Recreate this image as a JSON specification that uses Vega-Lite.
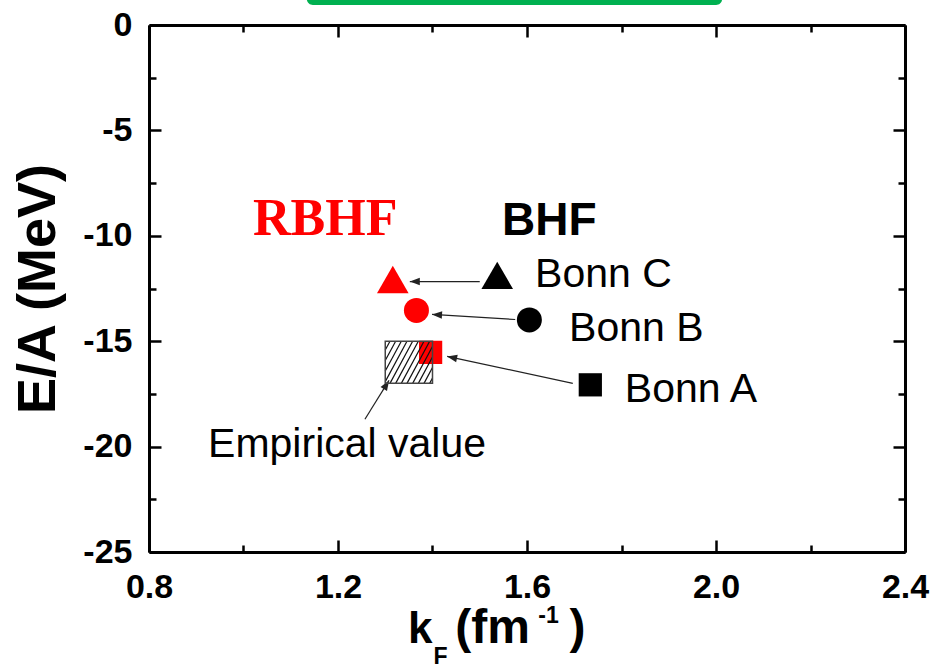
{
  "$schema": "https://vega.github.io/schema/vega-lite/v6.json",
  "width": 756,
  "height": 527,
  "autosize": {"type": "none"},
  "padding": {"left": 149, "top": 25, "right": 26, "bottom": 116},
  "background": "#ffffff",
  "config": {
    "view": {"stroke": null},
    "axis": {
      "grid": false,
      "domainColor": "#000000",
      "domainWidth": 3,
      "tickColor": "#000000",
      "tickWidth": 2.5,
      "labelFont": "Liberation Sans",
      "labelFontSize": 34,
      "labelFontWeight": "bold",
      "labelColor": "#000000",
      "labelFlush": false,
      "labelOverlap": false
    }
  },
  "datasets": {
    "points": [
      {"kF": 1.316, "EA": -12.07, "model": "Bonn C", "method": "RBHF"},
      {"kF": 1.366, "EA": -13.54, "model": "Bonn B", "method": "RBHF"},
      {"kF": 1.396, "EA": -15.53, "model": "Bonn A", "method": "RBHF"},
      {"kF": 1.537, "EA": -11.88, "model": "Bonn C", "method": "BHF"},
      {"kF": 1.605, "EA": -13.99, "model": "Bonn B", "method": "BHF"},
      {"kF": 1.734, "EA": -17.07, "model": "Bonn A", "method": "BHF"}
    ],
    "arrows": [
      {"xs": 1.500, "ys": -12.17, "xe": 1.352, "ye": -12.17, "ang": 270},
      {"xs": 1.575, "ys": -13.97, "xe": 1.399, "ye": -13.73, "ang": 273.4},
      {"xs": 1.697, "ys": -17.00, "xe": 1.431, "ye": -15.72, "ang": 282.1},
      {"xs": 1.257, "ys": -18.70, "xe": 1.308, "ye": -16.86, "ang": 31.6}
    ],
    "hatch": [
      {"a": 1.3940, "b": -17, "c": 1.40, "d": -16.75},
      {"a": 1.3820, "b": -17, "c": 1.40, "d": -16.25},
      {"a": 1.3700, "b": -17, "c": 1.40, "d": -15.75},
      {"a": 1.3580, "b": -17, "c": 1.40, "d": -15.25},
      {"a": 1.3460, "b": -17, "c": 1.394, "d": -15},
      {"a": 1.3340, "b": -17, "c": 1.382, "d": -15},
      {"a": 1.3220, "b": -17, "c": 1.370, "d": -15},
      {"a": 1.3100, "b": -17, "c": 1.358, "d": -15},
      {"a": 1.30, "b": -16.917, "c": 1.346, "d": -15},
      {"a": 1.30, "b": -16.417, "c": 1.334, "d": -15},
      {"a": 1.30, "b": -15.917, "c": 1.322, "d": -15},
      {"a": 1.30, "b": -15.417, "c": 1.310, "d": -15}
    ]
  },
  "resolve": {"axis": {"x": "independent", "y": "independent"}},
  "layer": [
    {
      "data": {"values": [{"x1": 1.134, "x2": 2.013, "y1": 0.95, "y2": 3}]},
      "mark": {"type": "rect", "color": "#00b050", "cornerRadius": 6, "clip": false},
      "encoding": {
        "x": {"field": "x1", "type": "quantitative", "scale": {"domain": [0.8, 2.4]}, "axis": null},
        "x2": {"field": "x2"},
        "y": {"field": "y1", "type": "quantitative", "scale": {"domain": [-25, 0]}, "axis": null},
        "y2": {"field": "y2"}
      }
    },
    {
      "data": {"name": "points"},
      "transform": [{"filter": "datum.method === 'RBHF'"}],
      "mark": {"type": "point", "filled": true, "opacity": 1, "color": "#ff0000", "strokeWidth": 0},
      "encoding": {
        "x": {"field": "kF", "type": "quantitative", "scale": {"domain": [0.8, 2.4]},
          "axis": {"orient": "bottom", "values": [0.8, 1.2, 1.6, 2.0, 2.4], "format": ".1f", "title": null, "tickSize": -12, "labelPadding": 30}},
        "y": {"field": "EA", "type": "quantitative", "scale": {"domain": [-25, 0]},
          "axis": {"orient": "left", "values": [0, -5, -10, -15, -20, -25], "labelExpr": "datum.value === 0 ? '0' : '-' + abs(datum.value)", "title": "E/A (MeV)", "titleFont": "Liberation Sans", "titleFontSize": 54, "titleFontWeight": "bold", "titleColor": "#000000", "titlePadding": 17, "tickSize": -12, "labelPadding": 29}},
        "shape": {"field": "model", "type": "nominal", "scale": {"domain": ["Bonn A", "Bonn B", "Bonn C"], "range": ["square", "circle", "triangle-up"]}, "legend": null},
        "size": {"field": "model", "type": "nominal", "scale": {"type": "ordinal", "domain": ["Bonn A", "Bonn B", "Bonn C"], "range": [540, 625, 1000]}, "legend": null}
      }
    },
    {
      "data": {"name": "points"},
      "transform": [{"filter": "datum.method === 'BHF'"}],
      "mark": {"type": "point", "filled": true, "opacity": 1, "color": "#000000", "strokeWidth": 0},
      "encoding": {
        "x": {"field": "kF", "type": "quantitative", "scale": {"domain": [0.8, 2.4]},
          "axis": {"orient": "top", "values": [0.8, 1.2, 1.6, 2.0, 2.4], "labels": false, "title": null, "tickSize": -12}},
        "y": {"field": "EA", "type": "quantitative", "scale": {"domain": [-25, 0]},
          "axis": {"orient": "right", "values": [0, -5, -10, -15, -20, -25], "labels": false, "title": null, "tickSize": -12}},
        "shape": {"field": "model", "type": "nominal", "scale": {"domain": ["Bonn A", "Bonn B", "Bonn C"], "range": ["square", "circle", "triangle-up"]}, "legend": null},
        "size": {"field": "model", "type": "nominal", "scale": {"type": "ordinal", "domain": ["Bonn A", "Bonn B", "Bonn C"], "range": [540, 625, 1000]}, "legend": null}
      }
    },
    {
      "data": {"name": "arrows"},
      "mark": {"type": "rule", "color": "#222222", "strokeWidth": 1.2},
      "encoding": {
        "x": {"field": "xs", "type": "quantitative", "scale": {"domain": [0.8, 2.4]},
          "axis": {"orient": "bottom", "values": [1.0, 1.4, 1.8, 2.2], "labels": false, "domain": false, "title": null, "tickSize": -7}},
        "y": {"field": "ys", "type": "quantitative", "scale": {"domain": [-25, 0]},
          "axis": {"orient": "left", "values": [-2.5, -7.5, -12.5, -17.5, -22.5], "labels": false, "domain": false, "title": null, "tickSize": -7}},
        "x2": {"field": "xe"},
        "y2": {"field": "ye"}
      }
    },
    {
      "data": {"name": "arrows"},
      "mark": {"type": "point", "filled": true, "opacity": 1, "color": "#222222", "strokeWidth": 0, "shape": "M0,0L-0.38,1L0.38,1Z", "size": 400},
      "encoding": {
        "x": {"field": "xe", "type": "quantitative", "scale": {"domain": [0.8, 2.4]},
          "axis": {"orient": "top", "values": [1.0, 1.4, 1.8, 2.2], "labels": false, "domain": false, "title": null, "tickSize": -7}},
        "y": {"field": "ye", "type": "quantitative", "scale": {"domain": [-25, 0]},
          "axis": {"orient": "right", "values": [-2.5, -7.5, -12.5, -17.5, -22.5], "labels": false, "domain": false, "title": null, "tickSize": -7}},
        "angle": {"field": "ang", "type": "quantitative", "scale": null}
      }
    },
    {
      "data": {"name": "hatch"},
      "mark": {"type": "rule", "color": "#111111", "strokeWidth": 1.2},
      "encoding": {
        "x": {"field": "a", "type": "quantitative", "scale": {"domain": [0.8, 2.4]}, "axis": null},
        "y": {"field": "b", "type": "quantitative", "scale": {"domain": [-25, 0]}, "axis": null},
        "x2": {"field": "c"},
        "y2": {"field": "d"}
      }
    },
    {
      "data": {"values": [{"x1": 1.30, "x2": 1.40, "y1": -17, "y2": -15}]},
      "mark": {"type": "rect", "fill": null, "fillOpacity": 0, "stroke": "#444444", "strokeWidth": 1.5},
      "encoding": {
        "x": {"field": "x1", "type": "quantitative", "scale": {"domain": [0.8, 2.4]}, "axis": null},
        "x2": {"field": "x2"},
        "y": {"field": "y1", "type": "quantitative", "scale": {"domain": [-25, 0]}, "axis": null},
        "y2": {"field": "y2"}
      }
    },
    {
      "data": {"values": [
        {"x": 1.617, "y": -12.41, "t": "Bonn C"},
        {"x": 1.689, "y": -15.01, "t": "Bonn B"},
        {"x": 1.807, "y": -17.90, "t": "Bonn A"},
        {"x": 0.925, "y": -20.50, "t": "Empirical value"}
      ]},
      "mark": {"type": "text", "align": "left", "baseline": "alphabetic", "font": "Liberation Sans", "fontSize": 41, "color": "#000000"},
      "encoding": {
        "x": {"field": "x", "type": "quantitative", "scale": {"domain": [0.8, 2.4]}, "axis": null},
        "y": {"field": "y", "type": "quantitative", "scale": {"domain": [-25, 0]}, "axis": null},
        "text": {"field": "t"}
      }
    },
    {
      "data": {"values": [{"x": 1.547, "y": -9.94, "t": "BHF"}]},
      "mark": {"type": "text", "align": "left", "baseline": "alphabetic", "font": "Liberation Sans", "fontSize": 46, "fontWeight": "bold", "color": "#000000"},
      "encoding": {
        "x": {"field": "x", "type": "quantitative", "scale": {"domain": [0.8, 2.4]}, "axis": null},
        "y": {"field": "y", "type": "quantitative", "scale": {"domain": [-25, 0]}, "axis": null},
        "text": {"field": "t"}
      }
    },
    {
      "data": {"values": [{"x": 1.020, "y": -9.94, "t": "RBHF"}]},
      "mark": {"type": "text", "align": "left", "baseline": "alphabetic", "font": "Liberation Serif", "fontSize": 52, "fontWeight": "bold", "color": "#ff0000"},
      "encoding": {
        "x": {"field": "x", "type": "quantitative", "scale": {"domain": [0.8, 2.4]}, "axis": null},
        "y": {"field": "y", "type": "quantitative", "scale": {"domain": [-25, 0]}, "axis": null},
        "text": {"field": "t"}
      }
    },
    {
      "data": {"values": [
        {"x": 1.348, "y": -29.32, "t": "k"}
      ]},
      "mark": {"type": "text", "align": "left", "baseline": "alphabetic", "font": "Liberation Sans", "fontSize": 44, "fontWeight": "bold", "color": "#000000", "clip": false},
      "encoding": {
        "x": {"field": "x", "type": "quantitative", "scale": {"domain": [0.8, 2.4]}, "axis": null},
        "y": {"field": "y", "type": "quantitative", "scale": {"domain": [-25, 0]}, "axis": null},
        "text": {"field": "t"}
      }
    },
    {
      "data": {"values": [
        {"x": 1.448, "y": -29.32, "t": "(fm"},
        {"x": 1.690, "y": -29.32, "t": ")"}
      ]},
      "mark": {"type": "text", "align": "left", "baseline": "alphabetic", "font": "Liberation Sans", "fontSize": 48, "fontWeight": "bold", "color": "#000000", "clip": false},
      "encoding": {
        "x": {"field": "x", "type": "quantitative", "scale": {"domain": [0.8, 2.4]}, "axis": null},
        "y": {"field": "y", "type": "quantitative", "scale": {"domain": [-25, 0]}, "axis": null},
        "text": {"field": "t"}
      }
    },
    {
      "data": {"values": [
        {"x": 1.402, "y": -30.32, "t": "F"},
        {"x": 1.624, "y": -28.37, "t": "-1"}
      ]},
      "mark": {"type": "text", "align": "left", "baseline": "alphabetic", "font": "Liberation Sans", "fontSize": 23, "fontWeight": "bold", "color": "#000000", "clip": false},
      "encoding": {
        "x": {"field": "x", "type": "quantitative", "scale": {"domain": [0.8, 2.4]}, "axis": null},
        "y": {"field": "y", "type": "quantitative", "scale": {"domain": [-25, 0]}, "axis": null},
        "text": {"field": "t"}
      }
    }
  ]
}
